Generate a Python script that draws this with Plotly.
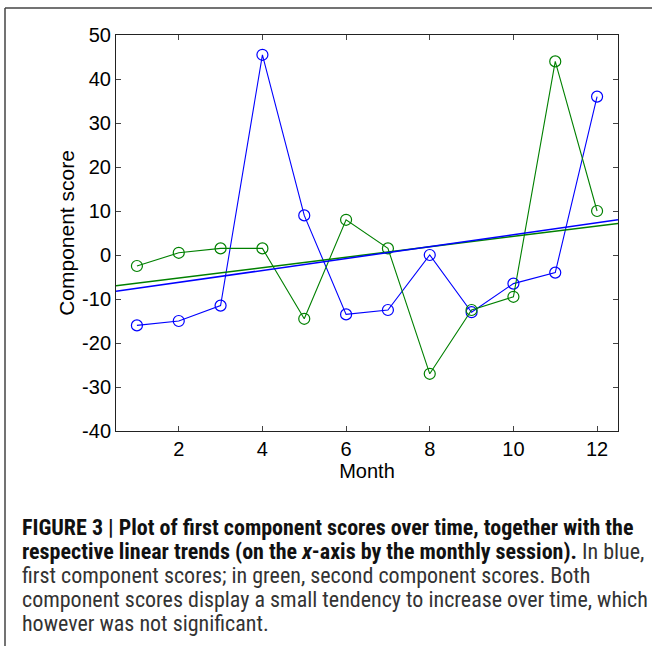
import numpy as np
import plotly.graph_objects as go

months = [1, 2, 3, 4, 5, 6, 7, 8, 9, 10, 11, 12]
first_scores = [-16, -15, -11.5, 45.5, 9, -13.5, -12.5, 0, -13, -6.5, -4, 36]
second_scores = [-2.5, 0.5, 1.5, 1.5, -14.5, 8, 1.5, -27, -12.5, -9.5, 44, 10]
x_ticks = [2, 4, 6, 8, 10, 12]
y_ticks = [-40, -30, -20, -10, 0, 10, 20, 30, 40, 50]

W, H = 652, 646
L, R, T, B = 116, 618, 35, 431

def px(x):
    return (x - L) / (R - L)

def py(y):
    return (B - y) / (B - T)

BLUE = "rgb(0,0,255)"
GREEN = "rgb(0,128,0)"
x_range = [0.5, 12.5]

fig = go.Figure()
for vals, col in [(first_scores, BLUE), (second_scores, GREEN)]:
    fig.add_trace(go.Scatter(
        x=months, y=vals, mode="lines+markers",
        line=dict(color=col, width=1.1),
        marker=dict(symbol="circle-open", size=11, color=col, line=dict(width=1.2, color=col)),
        showlegend=False, cliponaxis=False))
for vals, col in [(second_scores, GREEN), (first_scores, BLUE)]:
    k, b = np.polyfit(months, vals, 1)
    xs = np.array(x_range)
    fig.add_trace(go.Scatter(x=xs, y=k * xs + b, mode="lines",
                             line=dict(color=col, width=1.5), showlegend=False))

FONT = "Liberation Sans, Arial, sans-serif"
tick_font = dict(family=FONT, size=20, color="black")
fig.update_xaxes(range=x_range, tickvals=x_ticks, ticktext=[str(v) for v in x_ticks],
                 ticks="inside", ticklen=5,
                 showline=True, linecolor="#222", linewidth=1, mirror="ticks",
                 showgrid=False, zeroline=False, tickfont=tick_font,
                 title=dict(text="Month", font=dict(family=FONT, size=20, color="black"), standoff=4))
fig.update_yaxes(range=[-40, 50], tickvals=y_ticks, ticktext=[str(v) for v in y_ticks],
                 ticks="inside", ticklen=5,
                 showline=True, linecolor="#222", linewidth=1, mirror="ticks",
                 showgrid=False, zeroline=False, tickfont=tick_font,
                 title=dict(text="Component score", font=dict(family=FONT, size=21, color="black"), standoff=1))

shapes = [
    dict(type="line", xref="paper", yref="paper", x0=px(5), x1=px(660), y0=py(8), y1=py(8),
         line=dict(color="#444", width=1.5)),
    dict(type="line", xref="paper", yref="paper", x0=px(5), x1=px(5), y0=py(8), y1=py(660),
         line=dict(color="#444", width=1.5)),
]

cap_font = dict(family="Liberation Sans Narrow, Arial Narrow, Roboto Condensed, Liberation Sans, sans-serif", size=22, color="#333")
lines = [
    "<b style='color:#111'>FIGURE 3 | Plot of first component scores over time, together with the</b>",
    "<b style='color:#111'>respective linear trends (on the <i>x</i>-axis by the monthly session).</b> In blue,",
    "first component scores; in green, second component scores. Both",
    "component scores display a small tendency to increase over time, which",
    "however was not significant.",
]
ys = [527, 551, 575, 599, 623]
annotations = []
for t, yy in zip(lines, ys):
    annotations.append(dict(text=t, xref="paper", yref="paper", x=px(20), y=py(yy),
                            xanchor="left", yanchor="middle", showarrow=False, font=cap_font))

fig.update_layout(width=W, height=H, margin=dict(l=L, r=W - R, t=T, b=H - B),
                  plot_bgcolor="white", paper_bgcolor="white",
                  shapes=shapes, annotations=annotations)
fig.write_html("out.html", config={"displayModeBar": False},
               post_script="document.body.style.margin='0';")
